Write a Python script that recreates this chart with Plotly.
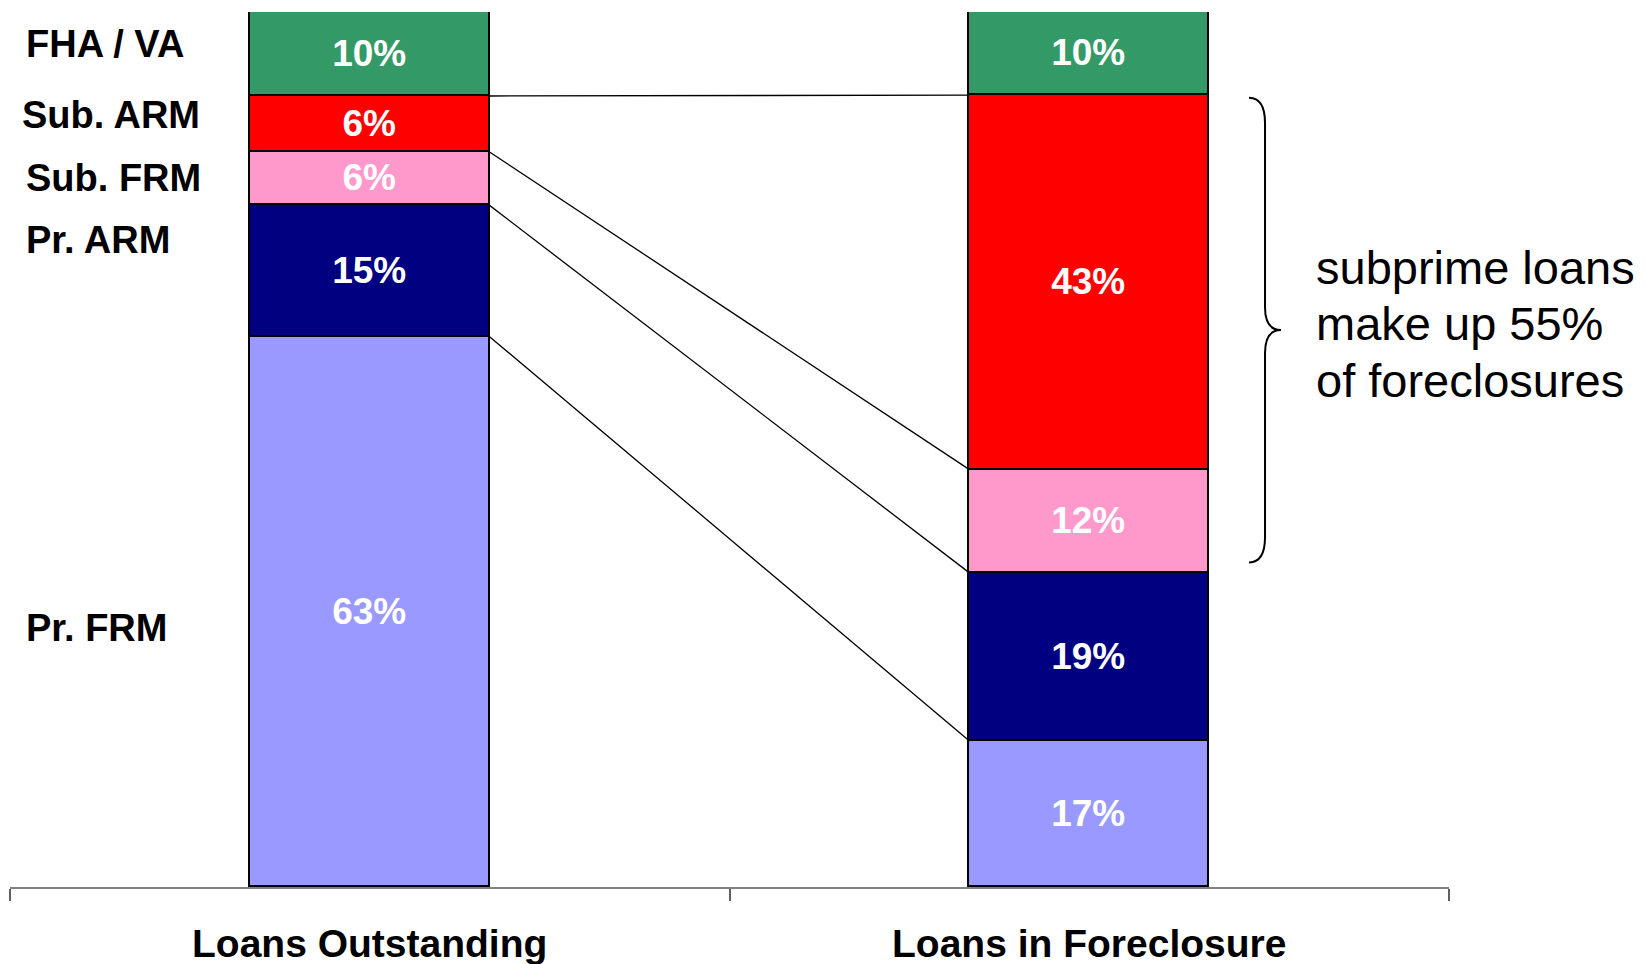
import plotly.graph_objects as go

# ---------------- data ----------------
categories = ["Loans Outstanding", "Loans in Foreclosure"]
segments = ["FHA / VA", "Sub. ARM", "Sub. FRM", "Pr. ARM", "Pr. FRM"]   # top to bottom
outstanding = [9.6, 6.4, 6.1, 15.0, 62.9]
foreclosure = [9.5, 42.8, 11.8, 19.2, 16.7]
outstanding_labels = ["10%", "6%", "6%", "15%", "63%"]
foreclosure_labels = ["10%", "43%", "12%", "19%", "17%"]
note_lines = ["subprime loans", "make up 55%", "of foreclosures"]

# ---------------- styles ----------------
colors = ["#339966", "#FF0000", "#FF99CC", "#000080", "#9999FF"]
FONT = "Liberation Sans, Arial, sans-serif"
BAR_W = 0.333
# label placement (paper coords)
seg_label_x = [0.0095, 0.0070, 0.0095, 0.0095, 0.0095]
seg_label_y = [0.9634, 0.8823, 0.8103, 0.7394, 0.2960]
note_x = 0.9065
note_y = [0.7084, 0.6444, 0.5792]

fig = go.Figure()
xs = [0, 1]
# stack from bottom to top
for i in reversed(range(len(segments))):
    fig.add_trace(go.Bar(
        x=xs, y=[outstanding[i], foreclosure[i]],
        width=BAR_W,
        name=segments[i],
        marker=dict(color=colors[i], line=dict(color="black", width=1.6)),
        text=[outstanding_labels[i], foreclosure_labels[i]],
        textposition="inside", insidetextanchor="middle", textangle=0,
        textfont=dict(family=FONT, size=37, color="white", weight="bold"),
        showlegend=False, hoverinfo="skip",
    ))

# connector lines between matching boundaries
tot_l = sum(outstanding)
tot_r = sum(foreclosure)
for i in range(1, len(segments)):
    yl = tot_l - sum(outstanding[:i])
    yr = tot_r - sum(foreclosure[:i])
    fig.add_trace(go.Scatter(
        x=[xs[0] + BAR_W / 2, xs[1] - BAR_W / 2], y=[yl, yr],
        mode="lines", line=dict(color="black", width=1.3),
        showlegend=False, hoverinfo="skip",
    ))

# curly brace spanning the subprime segments of the foreclosure bar
y_top = tot_r - foreclosure[0] - 0.3
y_bot = tot_r - sum(foreclosure[:3]) + 1.2
y_mid = (y_top + y_bot) / 2
xe, xv, xt = 1.2221, 1.2443, 1.2665
c = 2.9
m = 2.6
path = (f"M {xe},{y_top} Q {xv},{y_top} {xv},{y_top - c} "
        f"L {xv},{y_mid + m} Q {xv},{y_mid} {xt},{y_mid} "
        f"Q {xv},{y_mid} {xv},{y_mid - m} "
        f"L {xv},{y_bot + c} Q {xv},{y_bot} {xe},{y_bot}")
fig.add_shape(type="path", path=path, xref="x", yref="y",
              line=dict(color="black", width=2))

annotations = []
for name, x, y in zip(segments, seg_label_x, seg_label_y):
    annotations.append(dict(text=name, xref="paper", yref="paper", x=x, y=y,
                            xanchor="left", yanchor="middle", showarrow=False,
                            font=dict(family=FONT, size=38, color="black", weight="bold")))
for xi, cat in zip(xs, categories):
    annotations.append(dict(text=cat, xref="x", yref="paper", x=xi, y=-0.0640,
                            xanchor="center", yanchor="middle", showarrow=False,
                            font=dict(family=FONT, size=39, color="black", weight="bold")))
for line, y in zip(note_lines, note_y):
    annotations.append(dict(text=line, xref="paper", yref="paper", x=note_x, y=y,
                            xanchor="left", yanchor="middle", showarrow=False,
                            font=dict(family=FONT, size=47, color="black")))

fig.update_layout(
    width=1646, height=964,
    margin=dict(l=10, r=197, t=12, b=77),
    paper_bgcolor="white", plot_bgcolor="white",
    barmode="stack", bargap=0,
    uniformtext=dict(minsize=37, mode="show"),
    annotations=annotations,
    xaxis=dict(range=[-0.5, 1.5], showgrid=False, zeroline=False,
               showline=True, linecolor="#808080", linewidth=1.5,
               tickmode="array", tickvals=[-0.5, 0.5, 1.5], showticklabels=False,
               ticks="outside", ticklen=12, tickcolor="#606060", tickwidth=1.5),
    yaxis=dict(range=[0, 100], visible=False),
)

fig.write_html("out.html", config={"displayModeBar": False},
               post_script="document.body.style.margin='0';")
